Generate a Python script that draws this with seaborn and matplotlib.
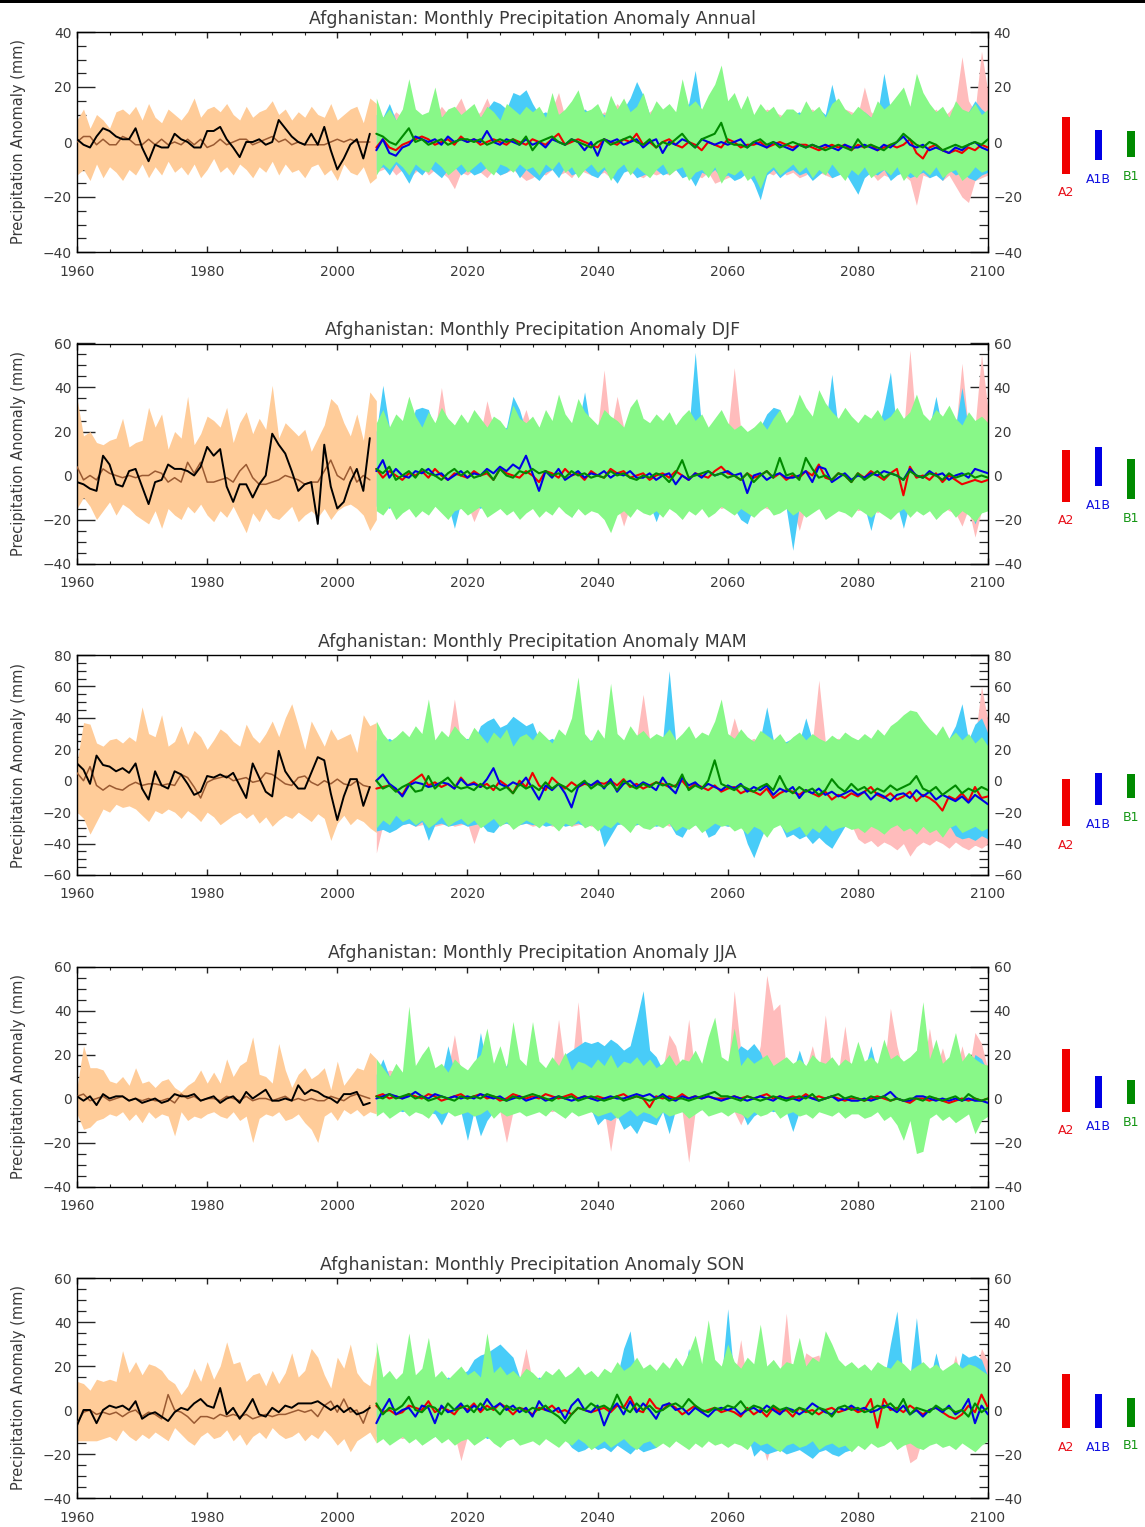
import matplotlib
matplotlib.use("Agg")
import matplotlib.pyplot as plt
from matplotlib.ticker import MultipleLocator
from matplotlib.patches import Rectangle
import seaborn as sns

# ---------------------------------------------------------------------------
# Years
HIST_YEARS = list(range(1960, 2006))        # observed + model-mean baseline
HIST_BAND_YEARS = list(range(1960, 2007))   # model envelope for the baseline
FUT_YEARS = list(range(2006, 2101))         # SRES scenario projections

SEASONS = ["Annual", "DJF", "MAM", "JJA", "SON"]
SCENARIOS = ["A2", "A1B", "B1"]
Y_LIMITS = {"Annual": (-40, 40), "DJF": (-40, 60), "MAM": (-60, 80),
            "JJA": (-40, 60), "SON": (-40, 60)}

# ---------------------------------------------------------------------------
# Annual
ann_obs = [1, -1, -2, 2, 5, 4, 2, 1, 1, 5,
           -2, -7, -1, -2, -2, 3, 1, 0, -2, -2,
           4, 4, 5.5, 1, -2, -5.5, 0, 0, 1, -1,
           0, 8, 5, 2, 0, -1, 3, -1, 5.5, -3,
           -10, -6, -1, 1, -6, 3]
ann_mod = [0, 2, 2, -1, 1, -1, -1, 2, 1, -1,
           -1, 1, -1, 1, -1, 0, -1, 1, -1, 1,
           -2, -1, 1, -1, 0, 1, 1, -1, 0, 1,
           2, 0, 1, -1, 0, -1, -1, -1, -1, 0,
           1, 0, 1, 0, 0, 0]
ann_hist_hi = [8, 12, 5, 10, 8, 5, 11, 12, 10, 13,
               8, 14, 9, 7, 12, 10, 8, 11, 16, 9,
               12, 13, 11, 14, 10, 8, 13, 9, 11, 12,
               15, 10, 12, 8, 11, 9, 13, 10, 9, 14,
               8, 10, 12, 13, 7, 16, 14]
ann_hist_lo = [-12, -10, -14, -8, -13, -9, -11, -14, -10, -12,
               -8, -13, -9, -12, -7, -11, -9, -12, -8, -13,
               -10, -6, -11, -9, -12, -8, -10, -13, -9, -11,
               -7, -12, -8, -11, -10, -13, -9, -8, -12, -10,
               -14, -8, -11, -12, -9, -15, -13]
ann_a2 = [-2, 1, -2, -3,
          -1, 0, 1, 2, 1, -1, 0, 1, -1, 2,
          0, 1, -1, 0, 1, 0, -1, 1, 0, -1,
          1, 0, -1, 1, 3, -1, 0, 1, 0, -1,
          -2, 1, 0, -1, 1, 0, 3, -1, 0, -2,
          0, 1, -1, -2, 0, -1, -3, 0, -1, -2,
          1, 0, -2, -1, -1, 0, -2, -1, 0, -1,
          -2, -1, -1, -2, -3, -2, -1, -2, -1, -3,
          -1, -2, -1, -3, -2, -1, -2, -1, 1, -4,
          -6, -2, -1, -3, -4, -3, -4, -2, -3, -1, -2]
ann_a1b = [-3, 1, -4, -5,
           -2, -1, 2, 1, 0, 1, -1, 2, 0, 1,
           0, 1, 0, 4, 0, -1, 1, 0, -1, 1,
           -1, 0, -2, 1, 0, -1, 1, 0, -3, 0,
           -5, 1, 0, 1, -1, 0, 1, -2, 0, 1,
           -4, 0, -1, 1, 0, -2, 1, 0, -1, 0,
           -1, 0, 1, -2, 0, -1, -2, 0, -1, -2,
           -3, -1, -2, -1, -2, -1, -2, -3, -1, -2,
           -2, -1, -2, -3, -1, -2, 0, 2, -1, -2,
           -1, -3, -2, -3, -4, -2, -3, -1, 0, -2, -3]
ann_b1 = [3, 2, 0, -1,
          2, 5, 0, 1, -1, 0, 1, -1, 0, 1,
          1, 0, 1, -1, 0, 1, 0, 1, -1, 2,
          -3, 0, 1, 2, 0, -1, 1, 0, -1, -2,
          0, 1, -1, 0, 1, 2, 0, -1, 1, -2,
          0, -1, 1, 3, 0, -2, 1, 2, 3, 7,
          0, -1, -1, -2, 0, 1, -1, 0, -2, -1,
          0, -1, -2, -1, -2, -3, -2, -1, -2, -3,
          1, -2, -1, -2, -3, -1, 0, 3, 1, -1,
          -2, 0, -1, -3, -2, -1, -2, -1, 0, -1, 1]
ann_a2_hi = [10, 9, 8, 11,
             9, 12, 11, 8, 10, 9, 13, 10, 12, 16,
             10, 9, 11, 16, 10, 12, 9, 11, 10, 8,
             11, 9, 10, 12, 18, 9, 11, 10, 12, 10,
             9, 11, 10, 14, 11, 10, 12, 9, 11, 13,
             10, 12, 11, 10, 13, 11, 10, 12, 11, 9,
             11, 10, 12, 11, 9, 10, 12, 11, 10, 9,
             10, 9, 11, 12, 10, 9, 11, 10, 12, 11,
             10, 20, 11, 9, 12, 10, 11, 9, 10, 12,
             11, 10, 12, 9, 11, 14, 31, 15, 11, 33, 18]
ann_a2_lo = [-11, -10, -9, -12,
             -10, -13, -11, -9, -12, -10, -11, -13, -17, -11,
             -12, -10, -11, -13, -10, -12, -11, -10, -12, -14,
             -13, -11, -12, -10, -12, -11, -13, -10, -11, -12,
             -12, -11, -13, -12, -10, -11, -12, -13, -11, -12,
             -11, -12, -10, -13, -11, -12, -13, -11, -15, -14,
             -13, -12, -11, -12, -14, -13, -11, -12, -10, -12,
             -11, -13, -12, -10, -11, -12, -13, -11, -12, -10,
             -13, -12, -11, -14, -12, -13, -11, -12, -14, -23,
             -12, -13, -11, -14, -12, -16, -20, -22, -14, -13, -12]
ann_a1b_hi = [10, 9, 14, 8,
              9, 11, 10, 9, 8, 10, 9, 10, 11, 9,
              10, 11, 9, 12, 15, 14, 12, 18, 17, 19,
              14, 10, 11, 9, 10, 11, 9, 10, 12, 10,
              11, 10, 9, 11, 12, 16, 22, 17, 10, 11,
              10, 11, 9, 12, 14, 26, 10, 11, 9, 10,
              11, 9, 10, 12, 9, 10, 11, 10, 9, 8,
              10, 11, 9, 8, 12, 10, 21, 11, 9, 8,
              10, 11, 9, 10, 25, 12, 9, 10, 9, 11,
              10, 9, 11, 10, 9, 12, 10, 11, 15, 12, 10]
ann_a1b_lo = [-10, -9, -12, -8,
              -11, -15, -10, -12, -9, -11, -13, -10, -9, -12,
              -10, -12, -11, -9, -10, -12, -11, -9, -13, -10,
              -12, -14, -11, -10, -13, -9, -12, -11, -10, -12,
              -13, -10, -12, -15, -11, -10, -13, -12, -11, -10,
              -12, -11, -10, -13, -12, -16, -11, -12, -10, -13,
              -12, -14, -13, -11, -15, -21, -12, -10, -13, -11,
              -10, -12, -11, -14, -12, -10, -13, -12, -11, -15,
              -19, -13, -11, -12, -10, -14, -12, -11, -13, -12,
              -11, -13, -12, -14, -10, -12, -11, -13, -14, -12, -11]
ann_b1_hi = [16, 9, 12, 8,
             12, 23, 12, 10, 11, 20, 9, 12, 13, 10,
             12, 14, 9, 13, 11, 8, 14, 12, 10, 13,
             11, 13, 9, 18, 10, 12, 15, 19, 11, 12,
             14, 9, 17, 12, 16, 11, 13, 18, 10, 15,
             12, 14, 11, 23, 13, 15, 12, 17, 21, 28,
             15, 18, 12, 17, 10, 14, 11, 13, 9, 12,
             12, 10, 15, 11, 13, 9, 14, 16, 12, 10,
             13, 11, 9, 15, 12, 14, 17, 20, 13, 25,
             18, 14, 11, 13, 9, 15, 12, 11, 14, 10, 12]
ann_b1_lo = [-12, -8, -10, -7,
             -9, -12, -8, -10, -11, -7, -9, -12, -10, -8,
             -11, -9, -7, -10, -12, -8, -9, -11, -8, -10,
             -9, -12, -8, -10, -7, -11, -9, -13, -10, -8,
             -11, -9, -14, -10, -8, -12, -9, -11, -13, -10,
             -8, -12, -10, -9, -14, -11, -10, -13, -9, -15,
             -11, -12, -10, -14, -12, -17, -11, -9, -12, -10,
             -8, -11, -9, -13, -10, -12, -8, -11, -14, -10,
             -12, -9, -13, -11, -10, -12, -9, -14, -11, -13,
             -10, -12, -9, -13, -11, -10, -14, -12, -9, -11, -10]
ann_ranges = [(-11.5, 9.0), (-6.7, 4.2), (-5.5, 3.9)]

# ---------------------------------------------------------------------------
# DJF
djf_obs = [-3, -4, -6, -7, 9, 5, -4, -5, 2, 3,
           -5, -13, -3, -2, 5, 3, 3, 2, 0, 4,
           13, 9, 12, -5, -12, -4, -4, -10, -4, 0,
           19, 14, 10, 2, -7, -4, -3, -22, 14, -5,
           -15, -12, -3, 3, -7, 17]
djf_mod = [4, -2, 0, -2, 3, 1, 0, -1, 0, -1,
           0, 0, 2, 1, -3, -1, -3, 6, 1, 6,
           -3, -3, -2, -1, -3, 2, 5, -1, -4, -4,
           -3, -2, 0, -1, -2, -4, -3, -3, 2, 7,
           0, -2, 4, -3, 0, -2]
djf_hist_hi = [35, 18, 20, 15, 14, 16, 17, 26, 13, 15,
               16, 31, 22, 28, 12, 20, 17, 36, 14, 19,
               27, 25, 22, 31, 15, 24, 29, 19, 26, 21,
               41, 17, 24, 21, 18, 21, 11, 17, 23, 35,
               32, 24, 18, 28, 16, 38, 34]
djf_hist_lo = [-15, -10, -14, -20, -16, -12, -18, -13, -15, -18,
               -20, -22, -16, -24, -15, -18, -20, -14, -17, -13,
               -18, -21, -16, -19, -14, -20, -26, -17, -21, -15,
               -19, -20, -17, -14, -21, -18, -16, -19, -15, -20,
               -16, -14, -13, -15, -18, -25, -20]
djf_a2 = [3, -1, 2, 0,
          -2, 1, 0, 2, -1, 3, 0, -2, 1, 0,
          -1, 2, 0, 1, -2, 3, 1, 0, -1, 2,
          0, -3, 2, 1, -1, 3, 0, 1, -2, 2,
          0, -1, 3, 1, 2, -1, 0, 1, -2, 0,
          1, -1, 2, 0, -2, 1, 0, -1, 2, 4,
          1, 0, -2, 1, -1, 0, 2, -1, 1, -2,
          0, -1, 2, 0, 5, -1, -2, 1, 0, -3,
          1, -1, 2, 0, -2, 1, 3, -9, 4, -1,
          0, -2, 1, -3, 0, -2, -4, -3, -2, -3, -2]
djf_a1b = [2, 7, -1, 3,
           0, -1, 2, 1, 3, 0, 1, -2, 0, 2,
           -1, 1, 0, 3, 1, 4, 2, 5, 3, 9,
           1, -7, 2, -1, 3, -2, 0, 2, -1, 1,
           0, 2, -1, 1, 0, 2, -1, -1, 1, -2,
           0, 1, -4, 0, -2, 1, -1, 2, 0, 1,
           2, 0, 1, -8, 0, 1, -2, 0, 1, -1,
           -1, 0, 2, -3, 4, 3, -3, -1, 1, -2,
           0, -1, 1, 0, 2, 1, 0, -2, 3, 0,
           -1, 2, 0, 1, -2, 0, 1, -1, 3, 2, 1]
djf_b1 = [3, 1, 4, -2,
          0, 2, -1, 3, 1, 0, -2, 1, 3, 0,
          2, -1, 0, 2, -2, 3, 0, -1, 2, 1,
          3, 1, 2, 0, 1, -1, 2, 0, 1, -1,
          0, -1, 2, 0, 1, -1, -2, 0, -1, 1,
          0, -3, 1, 7, -1, 0, 1, 2, 0, 1,
          -1, 0, -2, 1, -3, 0, 2, -1, 8, 0,
          1, -2, 8, 3, -1, 0, -2, 1, 0, -3,
          1, -2, 0, 2, -1, 1, 0, -2, 2, 0,
          -1, 1, 0, -2, 1, -1, 0, 1, -1, 0, -1]
djf_a2_hi = [21, 20, 19, 22,
             20, 36, 21, 19, 22, 20, 40, 21, 19, 22,
             20, 21, 19, 34, 22, 20, 21, 19, 22, 30,
             20, 22, 19, 21, 20, 22, 19, 21, 20, 22,
             21, 48, 20, 36, 22, 19, 21, 20, 22, 19,
             21, 20, 22, 19, 21, 20, 22, 21, 19, 22,
             20, 49, 21, 19, 22, 20, 21, 19, 22, 20,
             21, 36, 20, 22, 19, 21, 20, 22, 21, 19,
             22, 20, 21, 19, 22, 20, 21, 19, 57, 21,
             20, 22, 21, 19, 22, 20, 51, 21, 22, 55, 30]
djf_a2_lo = [-13, -12, -14, -13,
             -12, -14, -13, -12, -14, -13, -12, -15, -13, -14,
             -13, -21, -14, -13, -12, -15, -13, -14, -12, -13,
             -14, -13, -12, -14, -13, -15, -14, -13, -12, -14,
             -13, -14, -15, -13, -23, -14, -13, -15, -14, -13,
             -15, -14, -13, -12, -14, -15, -13, -14, -13, -15,
             -14, -13, -15, -14, -13, -14, -15, -16, -14, -15,
             -15, -25, -14, -16, -15, -17, -14, -16, -15, -14,
             -16, -15, -14, -17, -15, -16, -14, -17, -16, -15,
             -14, -16, -15, -14, -16, -17, -23, -15, -28, -16, -15]
djf_a1b_hi = [20, 41, 22, 19,
              21, 20, 30, 31, 30, 21, 19, 20, 22, 21,
              20, 19, 22, 18, 21, 20, 22, 36, 30, 20,
              19, 21, 20, 22, 19, 20, 21, 22, 38, 20,
              22, 21, 19, 22, 20, 21, 19, 22, 20, 21,
              20, 21, 19, 22, 20, 56, 21, 20, 22, 19,
              21, 20, 22, 19, 21, 22, 28, 31, 30, 21,
              20, 22, 19, 21, 20, 22, 46, 21, 20, 22,
              21, 20, 22, 19, 32, 47, 21, 20, 22, 21,
              20, 22, 36, 21, 20, 22, 40, 21, 20, 22, 21]
djf_a1b_lo = [-14, -13, -15, -12,
              -13, -14, -12, -15, -13, -12, -14, -13, -24, -12,
              -14, -13, -15, -12, -14, -13, -12, -15, -13, -14,
              -12, -14, -13, -15, -12, -13, -19, -14, -12, -13,
              -15, -13, -12, -14, -13, -15, -12, -14, -13, -21,
              -13, -12, -14, -13, -15, -12, -14, -13, -12, -14,
              -13, -15, -20, -22, -14, -13, -12, -14, -13, -15,
              -34, -14, -13, -12, -15, -13, -14, -12, -13, -15,
              -12, -14, -25, -13, -12, -14, -13, -24, -12, -14,
              -13, -15, -12, -14, -13, -12, -14, -13, -22, -14, -13]
djf_b1_hi = [24, 30, 22, 28,
             25, 36, 27, 22, 29, 24, 31, 26, 23, 28,
             24, 30, 26, 22, 27, 25, 21, 32, 26, 24,
             27, 22, 30, 25, 37, 28, 24, 35, 29, 26,
             23, 30, 27, 25, 22, 31, 35, 26, 24, 28,
             25, 29, 23, 27, 30, 25, 28, 22, 26, 30,
             24, 21, 23, 20, 22, 25, 21, 26, 30, 24,
             28, 37, 31, 27, 39, 33, 29, 26, 31, 27,
             24, 28, 26, 30, 25, 27, 31, 26, 29, 37,
             28, 25, 30, 27, 32, 26, 23, 29, 25, 27, 24]
djf_b1_lo = [-16, -18, -14, -20,
             -17, -15, -19, -16, -18, -14, -17, -20, -16, -15,
             -18, -16, -14, -19, -17, -15, -18, -16, -20, -17,
             -15, -19, -16, -18, -14, -17, -19, -15, -18, -16,
             -17, -20, -26, -18, -16, -19, -15, -17, -18, -16,
             -19, -15, -17, -20, -16, -18, -15, -19, -17, -14,
             -16, -18, -15, -17, -19, -16, -14, -18, -17, -15,
             -18, -16, -19, -17, -15, -20, -18, -16, -17, -19,
             -15, -17, -19, -16, -18, -20, -17, -15, -19, -16,
             -18, -16, -20, -17, -15, -19, -16, -18, -21, -17, -16]
djf_ranges = [(-12.0, 11.7), (-4.8, 12.9), (-10.9, 7.3)]

# ---------------------------------------------------------------------------
# MAM
mam_obs = [11, 7, -2, 16, 10, 9, 6, 8, 5, 11,
           -5, -12, 6, -3, -5, 6, 4, -2, -9, -7,
           3, 2, 4, 2, 5, -3, -11, 11, 2, -7,
           -10, 19, 6, 0, -5, -5, 5, 15, 13, -8,
           -25, -10, 1, 1, -16, -4]
mam_mod = [5, 0, 9, -3, -6, -3, -5, -6, -3, -1,
           -3, -2, -2, -3, -2, -3, 4, 2, -4, -11,
           -1, 1, 2, 3, 0, 1, 2, -1, 0, 5,
           4, 1, -2, -3, 2, 3, -1, -3, 0, -2,
           1, -2, -3, 0, -3, -4]
mam_hist_hi = [12, 37, 36, 24, 22, 26, 27, 24, 28, 25,
               47, 30, 28, 42, 22, 25, 35, 23, 32, 28,
               20, 26, 33, 30, 25, 22, 36, 28, 24, 30,
               38, 28, 40, 49, 35, 20, 38, 30, 22, 33,
               26, 28, 30, 18, 42, 35, 37]
mam_hist_lo = [-20, -24, -34, -26, -18, -20, -15, -17, -16, -18,
               -22, -26, -19, -21, -18, -20, -24, -19, -22, -26,
               -20, -23, -28, -25, -22, -20, -24, -21, -27, -23,
               -29, -25, -22, -24, -20, -23, -26, -21, -24, -38,
               -27, -22, -28, -24, -26, -30, -33]
mam_a2 = [-5, -4, -3, -6,
          -9, -2, 1, 4, -3, -1, -4, -2, -5, 2,
          -3, -1, -4, -2, -6, 0, -3, -8, 0, -4,
          5, -3, -6, 2, -2, -5, -1, -4, -2, -3,
          -1, -2, 0, -3, 1, -4, -2, -5, -3, -1,
          -2, -4, -3, 0, -5, -2, -4, -6, -3, -7,
          -5, -4, -8, -6, -7, -9, -5, -11, -8, -6,
          -7, -9, -6, -8, -10, -7, -12, -9, -11, -8,
          -10, -7, -4, -9, -11, -8, -12, -10, -7, -13,
          -9, -11, -14, -19, -10, -12, -8, -13, -4, -11, -10]
mam_a1b = [0, 4, -2, -5,
           -10, -3, -1, -2, -4, -3, -1, -2, -5, 1,
           -3, -2, -4, 1, 8, -2, -4, -1, -3, 2,
           -5, -12, -3, -6, -2, -8, -17, -4, -1, -3,
           0, -5, 1, -7, -2, 0, -4, -1, -3, -6,
           2, -4, -8, 2, -3, -1, -5, -2, -4, -6,
           -3, -5, -2, -7, -4, -6, -3, -9, -5, -7,
           -4, -11, -6, -8, -5, -9, -7, -10, -8, -6,
           -9, -7, -12, -8, -10, -13, -9, -8, -11, -6,
           -10, -7, -12, -9, -11, -13, -10, -14, -9, -12, -15]
mam_b1 = [0, -5, -3, -7,
          -4, -2, -7, -6, 3, -5, -1, 2, -3, -5,
          -4, -6, -2, -5, -3, -6, -4, -8, -2, -5,
          -3, -6, -1, -5, -2, -4, -7, -3, 0, -5,
          -2, -4, -1, -6, 0, -3, -5, -2, -4, -1,
          -3, -2, -4, 4, -6, -3, -5, 0, 13, -2,
          -4, -6, -3, -5, -7, -4, -2, -6, 3, -5,
          -8, -4, -7, -5, -9, -6, 1, -4, -7, -2,
          -6, -4, -8, -5, -7, -3, -6, -4, -2, 3,
          -5, -7, -4, -9, -6, -3, -8, -5, -7, -4, -6]
mam_a2_hi = [25, 27, 24, 26,
             25, 24, 26, 27, 25, 24, 26, 25, 52, 24,
             26, 25, 27, 24, 26, 25, 27, 26, 24, 25,
             27, 25, 26, 24, 27, 25, 26, 25, 27, 24,
             26, 25, 27, 24, 26, 25, 27, 55, 26, 24,
             25, 27, 24, 26, 25, 27, 24, 26, 25, 27,
             24, 40, 26, 25, 27, 24, 26, 25, 27, 24,
             26, 25, 27, 24, 64, 25, 26, 27, 24, 26,
             25, 27, 24, 26, 25, 27, 24, 26, 25, 40,
             26, 24, 27, 25, 26, 24, 27, 25, 26, 60, 38]
mam_a2_lo = [-46, -28, -27, -29,
             -28, -27, -29, -28, -27, -29, -28, -27, -29, -28,
             -27, -40, -28, -27, -29, -28, -27, -29, -28, -27,
             -29, -28, -27, -29, -28, -27, -29, -28, -27, -29,
             -28, -27, -29, -28, -27, -29, -28, -27, -29, -28,
             -27, -29, -28, -27, -29, -28, -27, -29, -28, -27,
             -29, -28, -27, -29, -28, -27, -29, -28, -27, -29,
             -28, -27, -29, -28, -27, -29, -28, -27, -29, -28,
             -37, -40, -38, -42, -39, -41, -44, -40, -48, -42,
             -39, -41, -38, -40, -43, -39, -42, -44, -41, -43, -40]
mam_a1b_hi = [26, 25, 27, 24,
              25, 27, 24, 26, 28, 25, 27, 24, 26, 25,
              27, 25, 35, 38, 40, 34, 36, 41, 38, 35,
              37, 26, 25, 27, 24, 26, 25, 27, 24, 26,
              25, 27, 24, 26, 25, 27, 26, 24, 25, 27,
              26, 70, 25, 27, 24, 26, 25, 27, 26, 24,
              25, 27, 24, 26, 25, 27, 47, 26, 24, 25,
              27, 25, 40, 26, 24, 25, 27, 26, 25, 24,
              26, 25, 27, 24, 26, 25, 27, 24, 26, 25,
              27, 25, 26, 24, 27, 35, 49, 26, 36, 40, 30]
mam_a1b_lo = [-32, -31, -33, -31,
              -28, -27, -29, -26, -38, -28, -27, -29, -28, -27,
              -29, -28, -27, -32, -33, -28, -27, -29, -28, -27,
              -28, -27, -29, -28, -27, -29, -28, -27, -29, -28,
              -27, -42, -35, -28, -27, -29, -28, -27, -28, -29,
              -28, -27, -34, -36, -29, -28, -27, -36, -34, -28,
              -29, -28, -27, -40, -49, -38, -28, -29, -27, -36,
              -34, -37, -35, -40, -36, -40, -43, -36, -29, -28,
              -27, -29, -28, -27, -29, -28, -27, -29, -28, -27,
              -29, -28, -27, -29, -28, -35, -37, -36, -38, -35, -37]
mam_b1_hi = [38, 30, 25, 28,
             32, 28, 35, 30, 52, 26, 32, 28, 35, 30,
             26, 34, 29, 24, 31, 27, 33, 22, 28, 30,
             26, 32, 28, 24, 33, 29, 40, 66, 30, 25,
             33, 27, 62, 30, 26, 35, 29, 32, 27, 30,
             28, 33, 26, 30, 35, 27, 31, 29, 38, 52,
             30, 27, 33, 28, 25, 32, 29, 26, 30, 24,
             28, 31, 26, 30, 27, 25, 29, 26, 31, 28,
             26, 30, 27, 33, 29, 35, 38, 42, 45, 44,
             38, 33, 29, 35, 27, 31, 26, 30, 24, 28, 22]
mam_b1_lo = [-30, -25, -28, -22,
             -26, -24, -28, -25, -30, -27, -23, -29, -26, -24,
             -28, -25, -30, -27, -24, -29, -26, -31, -28, -25,
             -27, -30, -26, -28, -32, -27, -29, -25, -30, -28,
             -32, -28, -30, -26, -29, -33, -27, -30, -31, -28,
             -30, -27, -32, -29, -31, -28, -33, -30, -27, -29,
             -28, -32, -30, -34, -29, -31, -36, -30, -28, -33,
             -31, -29, -35, -30, -33, -28, -32, -30, -29, -31,
             -30, -33, -29, -31, -34, -30, -28, -32, -30, -34,
             -29, -33, -31, -36, -30, -28, -33, -31, -29, -32, -30]
mam_ranges = [(-29.0, 1.0), (-15.5, 5.0), (-11.0, 4.0)]

# ---------------------------------------------------------------------------
# JJA
jja_obs = [1, -1, 1, -3, 2, 0, 1, 1, -1, 0,
           -2, -1, 0, -2, -1, 2, 1, 1, 2, -1,
           0, 1, -2, 0, 1, -2, 3, 0, 2, 4,
           -1, -1, 0, -1, 6, 2, 4, 3, 1, 0,
           -2, 2, 2, 3, -3, -2]
jja_mod = [1, 2, -1, 0, 1, -1, 0, 1, -1, 0,
           -1, 0, -1, -1, 0, -2, 2, 0, 1, -1,
           0, 0, -1, 1, 0, -1, 1, -1, 0, 0,
           -1, 0, 1, -1, 0, -1, 0, -1, -1, 1,
           0, -1, 1, 2, 1, 0]
jja_hist_hi = [5, 24, 14, 14, 13, 8, 7, 10, 6, 14,
               7, 8, 5, 8, 9, 5, 3, 6, 8, 13,
               7, 12, 7, 18, 10, 15, 17, 28, 11, 10,
               7, 25, 13, 5, 11, 14, 9, 11, 14, 4,
               17, 6, 10, 14, 13, 21, 18]
jja_hist_lo = [-7, -14, -13, -10, -9, -7, -8, -6, -10, -7,
               -11, -6, -9, -7, -8, -17, -6, -10, -8, -9,
               -7, -6, -8, -9, -6, -10, -8, -20, -9, -7,
               -8, -6, -10, -9, -7, -11, -14, -20, -8, -6,
               -10, -5, -7, -5, -8, -6, -7]
jja_a2 = [1, 2, 0, 1,
          0, 2, 1, 0, 2, 1, -1, 0, 1, 2,
          0, 1, 2, 0, 1, -1, 0, 2, 1, 0,
          1, 0, 2, 1, 0, 1, 2, 0, 1, 0,
          1, 0, 0, 1, 2, 0, 1, 0, -4, 1,
          0, 1, 0, 2, 0, 1, 0, 1, 0, 0,
          0, 1, 0, 1, 0, 1, 2, 0, 1, 0,
          1, 0, 2, 0, 1, 0, 1, 0, -1, 0,
          0, -1, 0, 1, 0, -1, 0, -1, -2, 0,
          0, -1, 0, -1, -2, -1, 0, -1, 0, -1, 0]
jja_a1b = [0, 1, 2, 1,
           0, 1, 3, 1, 0, 2, 1, 0, 1, 0,
           1, 0, 2, 1, 0, 1, -1, 0, 1, -1,
           0, 1, -1, 0, 1, 0, -1, 0, 1, 0,
           -1, 0, 1, 0, 0, 1, 2, 1, 2, 0,
           2, 0, -1, 1, 0, 1, 0, 1, 0, -1,
           0, 1, 0, -1, 0, 1, 0, -1, 1, 0,
           0, -1, 1, 0, -1, 0, 1, -1, 0, -1,
           -1, 0, -1, 0, 1, 3, 0, -1, -1, 1,
           1, 0, -1, 0, -1, 0, -1, 0, -1, -1, -2]
jja_b1 = [1, 0, 2, 0,
          1, 2, 0, 1, -1, 0, 1, 0, -1, 1,
          0, 1, 0, 2, 1, 0, -1, 1, 0, 1,
          2, 1, 0, -1, 1, 0, 1, -1, 0, 1,
          0, -1, 0, 1, -1, 0, 1, 0, -1, 0,
          1, -1, 0, 0, -1, 0, 1, 2, 3, 1,
          1, 0, -1, 1, 0, -1, 0, 1, 0, -1,
          0, 1, 0, 2, -1, 0, 1, 2, 0, 1,
          0, -1, 1, 0, 1, -1, 0, -1, 0, 0,
          -1, 1, 0, -1, 0, 1, -1, 2, 0, -1, 0]
jja_a2_hi = [12, 11, 13, 12,
             11, 13, 12, 11, 13, 12, 11, 13, 29, 12,
             11, 13, 12, 14, 12, 11, 13, 12, 11, 13,
             12, 11, 13, 12, 36, 14, 12, 44, 13, 12,
             11, 13, 12, 11, 13, 12, 11, 13, 12, 11,
             13, 29, 24, 12, 36, 11, 13, 12, 22, 13,
             12, 49, 22, 13, 12, 24, 56, 40, 43, 13,
             12, 11, 13, 24, 12, 38, 13, 12, 33, 12,
             13, 12, 11, 13, 12, 41, 24, 12, 13, 11,
             12, 32, 13, 23, 12, 11, 24, 12, 30, 25, 13]
jja_a2_lo = [-5, -6, -5, -6,
             -5, -6, -5, -6, -5, -6, -5, -6, -5, -6,
             -5, -6, -5, -6, -8, -6, -20, -6, -5, -6,
             -5, -6, -5, -6, -5, -6, -5, -6, -5, -6,
             -6, -5, -24, -6, -5, -6, -5, -6, -5, -6,
             -5, -6, -5, -6, -29, -6, -5, -6, -5, -6,
             -5, -6, -12, -5, -6, -5, -6, -5, -6, -5,
             -6, -5, -6, -5, -6, -5, -6, -5, -6, -5,
             -6, -5, -6, -5, -6, -5, -6, -5, -6, -5,
             -6, -5, -6, -5, -6, -5, -6, -5, -6, -5, -6]
jja_a1b_hi = [11, 18, 10, 12,
              11, 12, 10, 13, 11, 12, 10, 24, 12, 11,
              13, 12, 30, 14, 12, 13, 15, 22, 13, 12,
              11, 13, 12, 14, 13, 20, 22, 24, 26, 25,
              26, 24, 27, 25, 22, 24, 36, 49, 22, 19,
              13, 12, 11, 13, 12, 14, 12, 13, 11, 12,
              13, 20, 24, 22, 25, 21, 13, 12, 11, 13,
              12, 22, 13, 11, 12, 14, 12, 11, 13, 12,
              11, 13, 24, 12, 14, 11, 13, 12, 11, 13,
              12, 11, 13, 12, 11, 13, 12, 11, 20, 18, 12]
jja_a1b_lo = [-6, -5, -6, -5,
              -6, -5, -6, -5, -6, -7, -12, -6, -5, -6,
              -19, -6, -17, -10, -6, -5, -6, -5, -6, -5,
              -6, -5, -6, -5, -6, -5, -6, -5, -6, -5,
              -12, -9, -10, -8, -14, -12, -16, -10, -11, -12,
              -6, -16, -5, -6, -5, -6, -5, -6, -5, -6,
              -5, -6, -5, -12, -8, -6, -5, -6, -5, -6,
              -15, -6, -5, -6, -5, -6, -5, -6, -5, -6,
              -6, -5, -6, -5, -6, -5, -6, -5, -6, -5,
              -6, -5, -6, -5, -6, -5, -6, -5, -12, -6, -5]
jja_b1_hi = [18, 14, 10, 16,
             12, 42, 15, 20, 24, 14, 16, 12, 18, 15,
             13, 17, 20, 32, 16, 24, 14, 35, 18, 15,
             35, 17, 14, 19, 15, 21, 13, 17, 16, 14,
             18, 15, 20, 14, 17, 16, 19, 15, 18, 14,
             16, 20, 15, 18, 17, 22, 16, 28, 37, 19,
             17, 32, 15, 19, 16, 18, 20, 15, 17, 19,
             16, 18, 15, 20, 17, 16, 19, 15, 18, 16,
             26, 17, 19, 16, 27, 18, 20, 17, 19, 22,
             44, 18, 27, 16, 19, 30, 17, 21, 18, 16, 15]
jja_b1_lo = [-8, -6, -9, -7,
             -5, -8, -6, -7, -9, -5, -7, -6, -8, -7,
             -6, -8, -7, -5, -9, -6, -8, -7, -6, -8,
             -7, -6, -8, -5, -7, -9, -6, -8, -7, -6,
             -8, -7, -6, -9, -7, -5, -8, -6, -7, -9,
             -6, -8, -7, -6, -9, -7, -5, -8, -7, -6,
             -8, -6, -7, -9, -6, -8, -7, -5, -9, -7,
             -6, -8, -7, -9, -6, -7, -8, -6, -9, -7,
             -7, -9, -8, -6, -10, -8, -12, -19, -10, -25,
             -24, -9, -7, -10, -8, -11, -9, -7, -16, -10, -8]
jja_ranges = [(-6.0, 22.7), (-4.2, 10.2), (-2.3, 8.2)]

# ---------------------------------------------------------------------------
# SON
son_obs = [-7, 0, 0, -6, 0, 2, 1, 2, 0, 4,
           -4, -2, -1, -3, -5, -1, 1, 0, 3, 5,
           2, 1, 10, -2, 1, -4, 0, 5, -2, -3,
           1, -1, 2, 1, 3, 3, 3, 4, 2, 0,
           2, -1, 1, -2, -1, 1]
son_mod = [-6, -1, 0, -2, -1, -2, -1, -3, -1, 0,
           -3, -1, -2, -4, 7, 0, -1, -3, -6, -3,
           -3, -4, -2, -3, -2, -3, -2, -4, -3, -2,
           -3, -2, -2, -1, 0, -1, 0, -3, 2, 4,
           -1, 5, -1, 0, -6, 2]
son_hist_hi = [13, 12, 9, 14, 13, 14, 13, 27, 17, 22,
               16, 21, 20, 18, 14, 12, 7, 11, 19, 13,
               22, 14, 20, 31, 21, 22, 13, 16, 17, 11,
               18, 12, 17, 26, 15, 18, 28, 24, 16, 10,
               24, 19, 30, 17, 13, 11, 27]
son_hist_lo = [-14, -14, -14, -14, -13, -12, -14, -9, -12, -14,
               -11, -13, -10, -12, -14, -8, -11, -14, -16, -12,
               -10, -13, -12, -9, -14, -11, -16, -12, -10, -13,
               -8, -11, -13, -12, -10, -14, -11, -13, -9, -12,
               -16, -13, -19, -14, -12, -10, -15]
son_a2 = [2, -1, 0, -2,
          -1, 2, 1, 0, 4, -1, 1, 0, -2, 2,
          0, 3, -1, 2, 0, 3, 1, -2, 1, 0,
          -2, 1, 0, 2, -1, 0, -2, 1, 0, -1,
          0, 1, -1, 2, 1, 6, 0, -1, 5, 1,
          0, 3, 1, -2, 0, 2, -1, 0, 1, -1,
          0, -1, -3, 1, -2, 0, -3, 1, -1, 0,
          -3, 1, -1, 0, -2, 0, 1, -1, 0, 1,
          -1, 0, 5, -8, 5, 0, 1, -1, 2, 0,
          -2, 0, 1, -1, -3, -4, -2, 2, -1, 7, 1]
son_a1b = [-6, 0, 5, -2,
           0, 1, -3, 2, 1, -6, 2, -1, 0, 3,
           -1, 2, 0, 5, 1, 3, 0, 2, -1, 1,
           -3, 4, 0, -1, 1, -4, 2, 5, 0, -1,
           2, -7, 0, 3, -2, 4, -1, 3, 0, -4,
           2, 3, 0, 1, -2, 1, -1, -3, 0, 1,
           0, 1, -2, 0, 1, -1, 2, 0, -2, 1,
           0, -2, 0, 3, 1, -1, -2, 1, 0, 2,
           0, 1, -1, 0, 2, 1, -1, 2, -2, 0,
           -3, 0, 1, -1, 2, -2, 0, 5, -6, 2, -2]
son_b1 = [3, -2, 1, 0,
          2, 6, 0, -1, 2, 1, -2, 3, 0, 1,
          2, -1, 3, 0, 1, -2, 2, 0, 1, -1,
          1, 0, 2, -1, -3, -6, -2, 1, 0, 3,
          1, 2, 0, 7, 1, -1, 3, 0, 2, -1,
          0, 2, 3, 1, 5, 2, 0, -1, 1, 0,
          2, 1, 4, 0, 2, 1, -1, 2, 0, 1,
          -1, 1, 0, -2, 1, 0, -3, 1, 2, 0,
          1, -1, 0, 2, 1, 3, 0, 5, -2, 1,
          0, -1, 2, 0, 1, -1, 0, -3, 3, -1, 1]
son_a2_hi = [13, 14, 12, 13,
             14, 12, 13, 14, 12, 13, 14, 12, 13, 14,
             12, 13, 14, 12, 13, 14, 12, 13, 14, 28,
             13, 14, 12, 13, 14, 12, 13, 14, 12, 13,
             14, 12, 13, 14, 12, 13, 14, 12, 13, 14,
             12, 13, 14, 12, 13, 14, 12, 13, 14, 12,
             13, 14, 32, 12, 13, 14, 12, 13, 14, 44,
             13, 14, 26, 24, 25, 13, 14, 12, 13, 14,
             12, 13, 14, 12, 13, 14, 12, 13, 14, 12,
             13, 14, 12, 13, 14, 25, 12, 13, 14, 28, 22]
son_a2_lo = [-12, -13, -11, -12,
             -13, -12, -11, -13, -12, -11, -13, -12, -11, -23,
             -12, -13, -11, -12, -13, -11, -12, -13, -11, -12,
             -13, -11, -12, -13, -11, -12, -13, -11, -12, -13,
             -11, -12, -13, -11, -12, -13, -11, -12, -13, -11,
             -12, -13, -11, -12, -13, -11, -12, -13, -11, -12,
             -13, -11, -12, -13, -11, -12, -23, -13, -11, -12,
             -13, -11, -12, -13, -11, -12, -13, -11, -12, -13,
             -11, -12, -13, -11, -12, -13, -11, -12, -24, -22,
             -12, -13, -11, -12, -13, -11, -12, -13, -11, -12, -13]
son_a1b_hi = [14, 13, 15, 14,
              13, 15, 14, 13, 15, 14, 13, 15, 14, 16,
              18, 23, 25, 26, 28, 30, 27, 24, 15, 14,
              13, 15, 14, 13, 15, 14, 13, 15, 14, 13,
              15, 14, 13, 15, 28, 36, 14, 13, 15, 14,
              13, 15, 14, 13, 28, 14, 13, 15, 14, 13,
              46, 14, 15, 13, 14, 15, 13, 14, 15, 13,
              14, 15, 13, 14, 15, 13, 14, 15, 13, 14,
              15, 13, 14, 15, 13, 30, 45, 14, 15, 42,
              14, 13, 26, 14, 15, 13, 26, 24, 25, 23, 15]
son_a1b_lo = [-12, -11, -13, -12,
              -11, -13, -12, -11, -13, -12, -11, -13, -12, -11,
              -13, -12, -11, -13, -12, -11, -13, -12, -11, -13,
              -12, -11, -13, -12, -11, -13, -17, -19, -18, -16,
              -18, -17, -19, -16, -18, -20, -17, -19, -18, -17,
              -12, -11, -13, -12, -11, -13, -12, -11, -13, -12,
              -11, -13, -12, -11, -21, -18, -20, -19, -18, -20,
              -19, -18, -20, -22, -19, -18, -20, -21, -19, -18,
              -12, -11, -13, -12, -11, -13, -12, -11, -13, -12,
              -11, -13, -12, -11, -13, -12, -11, -13, -12, -11, -12]
son_b1_hi = [31, 15, 18, 14,
             17, 35, 16, 19, 33, 15, 18, 14, 17, 20,
             16, 18, 15, 35, 17, 20, 16, 18, 15, 19,
             17, 14, 18, 16, 19, 15, 17, 20, 16, 18,
             15, 19, 17, 22, 18, 20, 24, 19, 21, 18,
             22, 19, 24, 20, 26, 34, 21, 41, 23, 20,
             30, 22, 19, 24, 21, 39, 20, 23, 19, 22,
             21, 33, 20, 24, 22, 36, 30, 23, 20, 22,
             19, 21, 18, 22, 20, 19, 23, 21, 18, 20,
             22, 19, 21, 18, 20, 22, 19, 21, 20, 18, 16]
son_b1_lo = [-15, -13, -16, -14,
             -12, -15, -13, -16, -14, -12, -15, -13, -16, -14,
             -13, -16, -14, -12, -15, -17, -14, -13, -16, -15,
             -14, -16, -13, -15, -17, -14, -16, -13, -15, -18,
             -16, -14, -17, -15, -13, -16, -18, -15, -14, -17,
             -15, -17, -14, -16, -18, -15, -17, -14, -16, -15,
             -17, -15, -16, -18, -14, -16, -15, -17, -19, -16,
             -15, -17, -16, -14, -18, -16, -15, -17, -16, -19,
             -16, -18, -15, -17, -16, -14, -18, -16, -15, -17,
             -18, -16, -15, -17, -16, -18, -15, -17, -19, -16, -14]
son_ranges = [(-8.3, 16.2), (-8.3, 7.4), (-7.6, 5.6)]

# ---------------------------------------------------------------------------
PANELS = {
    "Annual": dict(obs=ann_obs, mod=ann_mod, hist_hi=ann_hist_hi, hist_lo=ann_hist_lo,
                   A2=ann_a2, A1B=ann_a1b, B1=ann_b1,
                   A2_hi=ann_a2_hi, A2_lo=ann_a2_lo, A1B_hi=ann_a1b_hi, A1B_lo=ann_a1b_lo,
                   B1_hi=ann_b1_hi, B1_lo=ann_b1_lo, ranges=ann_ranges),
    "DJF": dict(obs=djf_obs, mod=djf_mod, hist_hi=djf_hist_hi, hist_lo=djf_hist_lo,
                A2=djf_a2, A1B=djf_a1b, B1=djf_b1,
                A2_hi=djf_a2_hi, A2_lo=djf_a2_lo, A1B_hi=djf_a1b_hi, A1B_lo=djf_a1b_lo,
                B1_hi=djf_b1_hi, B1_lo=djf_b1_lo, ranges=djf_ranges),
    "MAM": dict(obs=mam_obs, mod=mam_mod, hist_hi=mam_hist_hi, hist_lo=mam_hist_lo,
                A2=mam_a2, A1B=mam_a1b, B1=mam_b1,
                A2_hi=mam_a2_hi, A2_lo=mam_a2_lo, A1B_hi=mam_a1b_hi, A1B_lo=mam_a1b_lo,
                B1_hi=mam_b1_hi, B1_lo=mam_b1_lo, ranges=mam_ranges),
    "JJA": dict(obs=jja_obs, mod=jja_mod, hist_hi=jja_hist_hi, hist_lo=jja_hist_lo,
                A2=jja_a2, A1B=jja_a1b, B1=jja_b1,
                A2_hi=jja_a2_hi, A2_lo=jja_a2_lo, A1B_hi=jja_a1b_hi, A1B_lo=jja_a1b_lo,
                B1_hi=jja_b1_hi, B1_lo=jja_b1_lo, ranges=jja_ranges),
    "SON": dict(obs=son_obs, mod=son_mod, hist_hi=son_hist_hi, hist_lo=son_hist_lo,
                A2=son_a2, A1B=son_a1b, B1=son_b1,
                A2_hi=son_a2_hi, A2_lo=son_a2_lo, A1B_hi=son_a1b_hi, A1B_lo=son_a1b_lo,
                B1_hi=son_b1_hi, B1_lo=son_b1_lo, ranges=son_ranges),
}

# Colours
ORANGE = "#FFCC99"
BAND_COLORS = {"A2": "#FFBCBC", "A1B": "#48CCF8", "B1": "#88F888"}
LINE_COLORS = {"A2": "#F00000", "A1B": "#0000E6", "B1": "#008A00"}
LABEL_COLORS = {"A2": "#E8101A", "A1B": "#1010E0", "B1": "#149614"}
BROWN = "#9A5A32"
TEXT = "#3A3A3A"

# ---------------------------------------------------------------------------
sns.set_theme(style="ticks")
plt.rcParams["font.family"] = ["DejaVu Sans"]
plt.rcParams["axes.edgecolor"] = "black"
plt.rcParams["axes.linewidth"] = 1.0

W, H = 1145, 1527
fig = plt.figure(figsize=(W / 100, H / 100), dpi=100)
fig.patch.set_facecolor("white")
fig.add_artist(Rectangle((0, 1 - 3 / H), 1, 3 / H, transform=fig.transFigure,
                         facecolor="black", edgecolor="none", zorder=10))

AX_LEFT, AX_W, AX_H = 77, 911, 220
LEG_LEFT, LEG_W = 1050, 95

for i, season in enumerate(SEASONS):
    p = PANELS[season]
    top = 32 + 311.5 * i
    bottom = 1 - (top + AX_H) / H
    ax = fig.add_axes([AX_LEFT / W, bottom, AX_W / W, AX_H / H])
    ax.set_facecolor("white")

    # envelopes
    ax.fill_between(HIST_BAND_YEARS, p["hist_lo"], p["hist_hi"], color=ORANGE,
                    lw=0, zorder=1)
    for sc in SCENARIOS:
        ax.fill_between(FUT_YEARS, p[sc + "_lo"], p[sc + "_hi"],
                        color=BAND_COLORS[sc], lw=0, zorder=1)

    # model mean and observed series
    sns.lineplot(x=HIST_YEARS, y=p["mod"], ax=ax, color=BROWN, linewidth=1.1,
                 legend=False, zorder=3)
    sns.lineplot(x=HIST_YEARS, y=p["obs"], ax=ax, color="black", linewidth=1.4,
                 legend=False, zorder=4)
    for sc in SCENARIOS:
        sns.lineplot(x=FUT_YEARS, y=p[sc], ax=ax, color=LINE_COLORS[sc], linewidth=1.5,
                     legend=False, zorder=4)

    lo, hi = Y_LIMITS[season]
    ax.set_xlim(1960, 2100)
    ax.set_ylim(lo, hi)
    ax.xaxis.set_major_locator(MultipleLocator(20))
    ax.xaxis.set_minor_locator(MultipleLocator(5))
    ax.yaxis.set_major_locator(MultipleLocator(20))
    ax.yaxis.set_minor_locator(MultipleLocator(5))
    ax.tick_params(axis="y", which="major", direction="in", length=13, width=1.0,
                   left=True, right=True, labelleft=True, labelright=True,
                   labelsize=10, labelcolor=TEXT, pad=4)
    ax.tick_params(axis="y", which="minor", direction="in", length=6.5, width=0.9,
                   left=True, right=True)
    ax.tick_params(axis="x", which="major", direction="in", length=4, width=1.0,
                   top=True, bottom=True, labelsize=10, labelcolor=TEXT, pad=9)
    ax.tick_params(axis="x", which="minor", direction="in", length=2.5, width=0.8,
                   top=True, bottom=True)
    ax.set_xlabel("")
    ax.set_ylabel("Precipitation Anomaly (mm)", fontsize=10.5, color=TEXT)
    ax.yaxis.set_label_coords(-(AX_LEFT - 26) / AX_W, 0.5)
    for s in ax.spines.values():
        s.set_linewidth(1.0)
        s.set_color("black")
    ax.set_title(f"Afghanistan: Monthly Precipitation Anomaly {season}",
                 fontsize=12.5, color=TEXT, pad=6)

    # scenario range bars
    lax = fig.add_axes([LEG_LEFT / W, bottom, LEG_W / W, AX_H / H])
    lax.set_xlim(-16 / 32.5, (LEG_W - 16) / 32.5)
    lax.set_ylim(lo, hi)
    lax.axis("off")
    for j, sc in enumerate(SCENARIOS):
        r_lo, r_hi = p["ranges"][j]
        lax.bar(j, r_hi - r_lo, bottom=r_lo, width=0.22, color=LINE_COLORS[sc],
                edgecolor="none")
        lax.annotate(sc, xy=(j, r_lo), xytext=(0, -9), textcoords="offset points",
                     ha="center", va="top", fontsize=9, color=LABEL_COLORS[sc])

fig.savefig("out.png", dpi=100, facecolor="white")
